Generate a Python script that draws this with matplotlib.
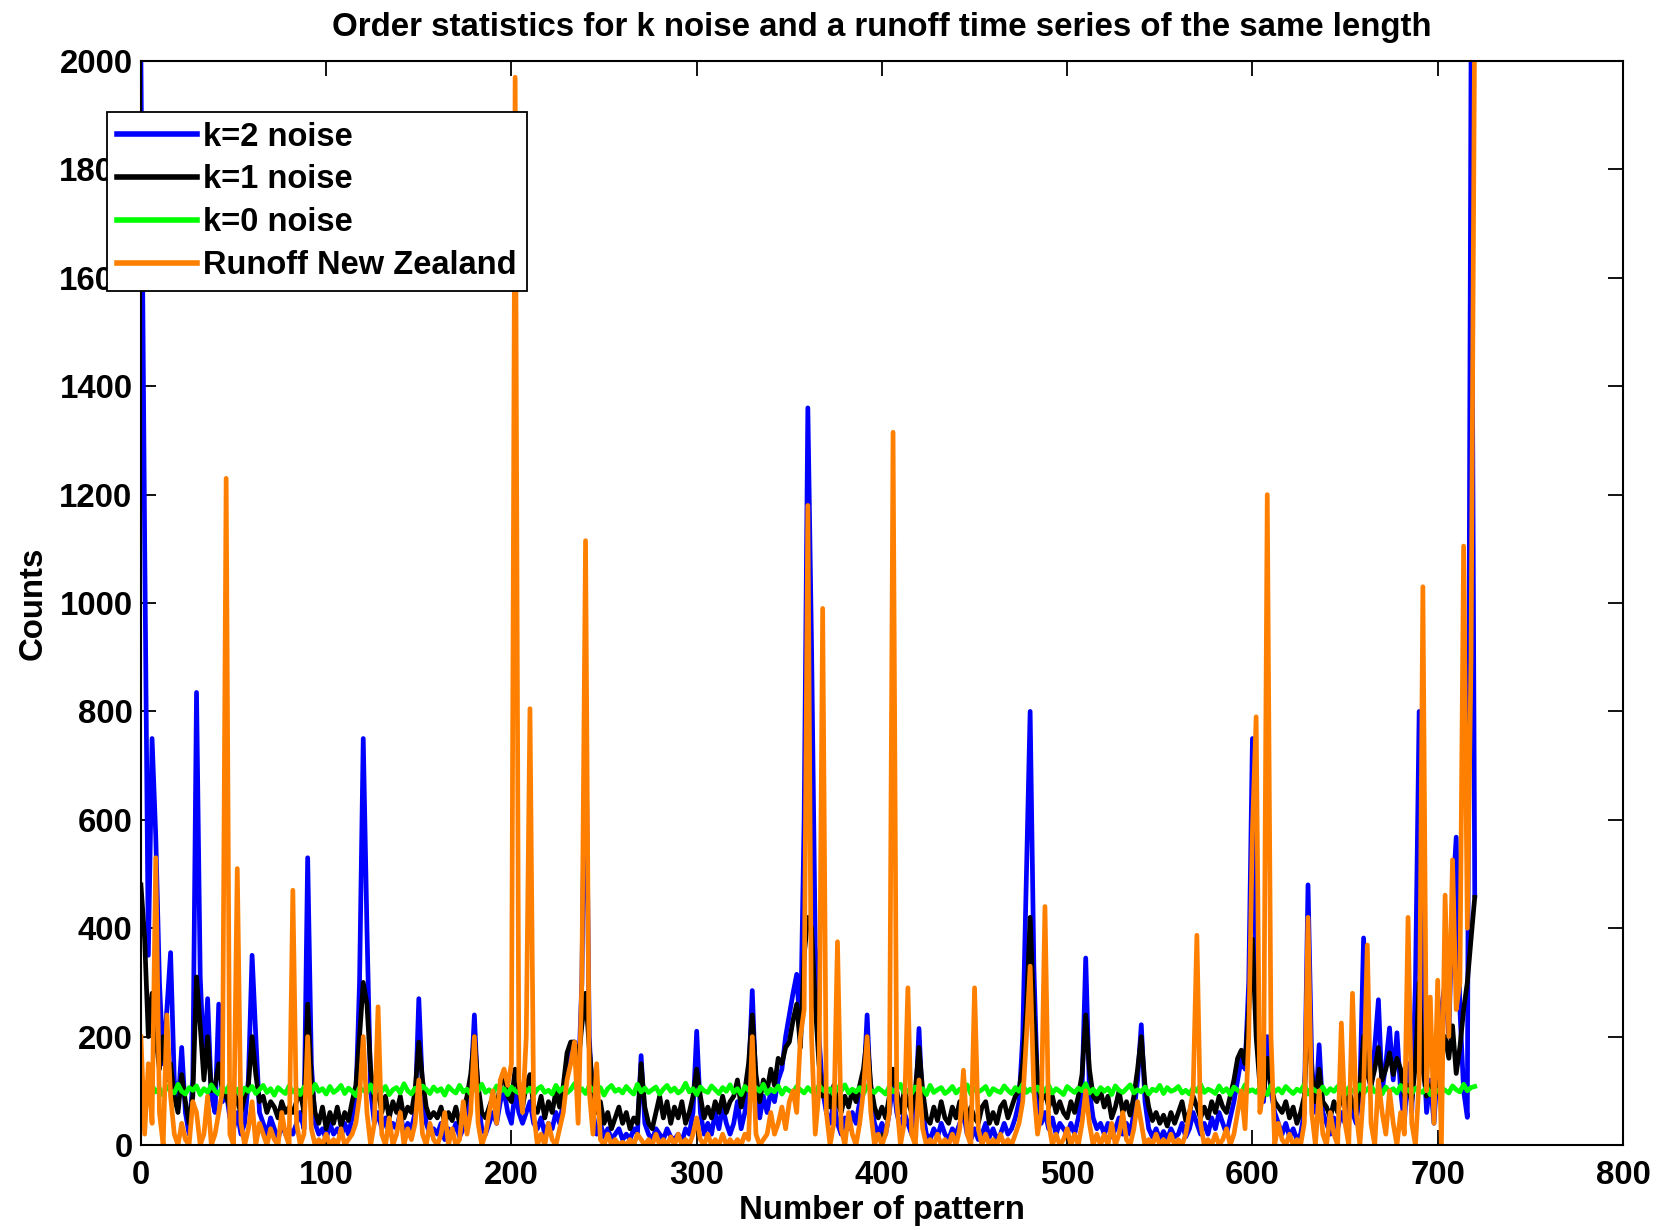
import matplotlib
matplotlib.use('Agg')
import matplotlib.pyplot as plt
import numpy as np

# pattern counts, one value every 2 patterns
step = 2
k2_noise = [
    2000, 1120, 350, 750, 570, 300, 150, 250, 355, 120, 70, 180, 60, 20, 120, 835, 310, 150, 270, 90,
    60, 260, 80, 100, 50, 30, 60, 20, 40, 120, 350, 200, 60, 40, 20, 50, 30, 10, 40, 20,
    30, 20, 40, 60, 30, 530, 150, 40, 20, 30, 10, 40, 20, 30, 15, 40, 20, 50, 80, 300,
    750, 400, 100, 40, 60, 30, 50, 20, 40, 30, 60, 20, 40, 30, 60, 270, 100, 40, 20, 30,
    20, 40, 10, 30, 20, 40, 15, 30, 60, 100, 240, 80, 30, 20, 40, 60, 40, 80, 100, 60,
    40, 100, 60, 40, 60, 80, 40, 30, 50, 20, 40, 30, 60, 40, 80, 140, 180, 190, 100, 300,
    820, 200, 60, 20, 40, 15, 30, 10, 20, 30, 10, 20, 10, 30, 20, 165, 40, 20, 10, 30,
    20, 10, 30, 15, 10, 20, 5, 30, 20, 60, 210, 60, 20, 40, 20, 60, 30, 70, 40, 20,
    40, 80, 30, 60, 120, 285, 100, 50, 90, 60, 100, 80, 120, 140, 200, 240, 280, 315, 200, 600,
    1360, 920, 370, 200, 100, 60, 40, 80, 40, 20, 50, 30, 60, 40, 80, 100, 240, 80, 40, 20,
    40, 20, 60, 120, 60, 30, 60, 40, 20, 60, 215, 60, 20, 10, 30, 15, 40, 20, 10, 30,
    20, 40, 60, 20, 10, 30, 10, 20, 40, 15, 30, 10, 20, 40, 20, 30, 50, 80, 200, 500,
    800, 330, 100, 40, 60, 30, 50, 20, 40, 30, 20, 40, 20, 50, 100, 345, 100, 50, 30, 40,
    20, 40, 15, 30, 50, 20, 40, 20, 60, 120, 222, 80, 30, 15, 30, 10, 25, 10, 30, 15,
    20, 40, 15, 30, 60, 40, 20, 40, 20, 50, 30, 60, 40, 20, 50, 80, 120, 160, 140, 300,
    750, 300, 120, 80, 200, 100, 60, 40, 20, 40, 15, 30, 10, 20, 60, 480, 150, 60, 185, 60,
    40, 20, 50, 30, 60, 40, 80, 60, 40, 100, 382, 150, 100, 180, 268, 100, 150, 216, 120, 207,
    100, 40, 150, 60, 300, 800, 200, 60, 120, 40, 150, 250, 300, 200, 450, 568, 250, 100, 51, 2000,
    460]
k1_noise = [
    480, 380, 200, 280, 200, 140, 200, 120, 150, 90, 60, 130, 80, 40, 90, 310, 220, 120, 200, 100,
    110, 150, 100, 90, 70, 100, 80, 60, 90, 110, 200, 130, 80, 90, 60, 80, 70, 50, 80, 60,
    70, 60, 80, 100, 60, 260, 120, 60, 40, 70, 30, 60, 40, 70, 35, 60, 45, 80, 110, 200,
    300, 260, 140, 80, 100, 60, 90, 50, 80, 60, 90, 50, 70, 60, 100, 190, 120, 70, 50, 60,
    50, 70, 40, 60, 45, 70, 40, 60, 90, 130, 200, 110, 60, 50, 70, 90, 70, 110, 130, 90,
    80, 140, 100, 70, 110, 130, 70, 60, 90, 50, 80, 60, 100, 70, 110, 170, 190, 190, 150, 220,
    280, 180, 100, 60, 80, 40, 60, 30, 50, 70, 40, 60, 30, 50, 40, 150, 70, 40, 30, 60,
    90, 50, 80, 40, 70, 50, 80, 40, 60, 90, 140, 90, 50, 70, 50, 80, 60, 90, 60, 80,
    90, 120, 70, 100, 150, 240, 130, 80, 120, 100, 140, 110, 160, 150, 180, 190, 230, 260, 180, 350,
    420, 400, 260, 150, 90, 100, 70, 110, 80, 60, 90, 70, 100, 80, 110, 140, 200, 110, 70, 50,
    70, 50, 90, 140, 100, 60, 100, 80, 60, 100, 180, 100, 50, 40, 70, 45, 80, 50, 40, 70,
    50, 80, 60, 40, 70, 50, 40, 70, 80, 40, 60, 40, 70, 80, 50, 70, 90, 100, 150, 250,
    420, 240, 120, 80, 100, 70, 90, 60, 80, 60, 50, 80, 60, 90, 130, 240, 140, 90, 80, 100,
    70, 90, 50, 70, 100, 60, 80, 55, 90, 140, 200, 110, 70, 45, 60, 40, 55, 35, 60, 40,
    60, 80, 45, 60, 90, 70, 50, 70, 50, 80, 60, 90, 70, 60, 90, 120, 160, 175, 150, 250,
    380, 200, 110, 90, 160, 110, 80, 70, 60, 80, 50, 70, 40, 60, 90, 250, 130, 80, 140, 80,
    70, 50, 80, 60, 90, 70, 100, 80, 60, 110, 200, 130, 110, 140, 180, 120, 140, 170, 130, 160,
    140, 90, 110, 80, 150, 300, 140, 90, 110, 80, 120, 180, 200, 160, 220, 132, 181, 250, 300, 380,
    457]
k0_noise = [
    88, 102, 95, 110, 98, 105, 92, 108, 100, 96, 112, 99, 94, 106, 101, 109, 93, 104, 97, 111,
    100, 94, 107, 98, 113, 96, 103, 91, 105, 99, 108, 95, 102, 110, 97, 104, 92, 106, 100, 95,
    109, 98, 103, 93, 107, 101, 96, 112, 99, 104, 94, 108, 97, 102, 110, 95, 105, 99, 91, 106,
    101, 97, 111, 95, 104, 99, 108, 93, 102, 106, 96, 113, 100, 94, 105, 98, 109, 103, 95, 107,
    99, 104, 92, 108, 101, 96, 110, 98, 103, 94, 106, 100, 112, 97, 102, 95, 109, 99, 104, 93,
    107, 100, 96, 111, 98, 105, 93, 103, 108, 97, 101, 94, 110, 99, 106, 96, 102, 113, 98, 104,
    95, 109, 101, 97, 106, 92, 104, 110, 99, 103, 96, 108, 100, 94, 112, 98, 105, 97, 102, 107,
    94, 103, 110, 99, 105, 96, 101, 114, 98, 104, 93, 107, 100, 97, 109, 102, 95, 106, 99, 111,
    97, 104, 93, 108, 101, 96, 106, 99, 112, 95, 103, 98, 109, 94, 105, 100, 97, 108, 102, 96,
    106, 99, 95, 110, 102, 97, 104, 93, 107, 100, 111, 96, 103, 98, 106, 94, 109, 101, 97, 105,
    100, 94, 108, 98, 103, 112, 96, 101, 95, 107, 99, 104, 93, 110, 97, 102, 106, 95, 100, 108,
    96, 103, 99, 111, 94, 105, 98, 102, 108, 93, 104, 100, 97, 109, 101, 95, 106, 99, 112, 97,
    103, 98, 107, 95, 101, 110, 96, 104, 99, 93, 108, 102, 97, 105, 100, 113, 96, 103, 94, 106,
    99, 105, 93, 109, 101, 97, 104, 111, 96, 102, 98, 107, 94, 103, 100, 110, 95, 106, 99, 102,
    108, 96, 101, 94, 106, 99, 112, 97, 103, 100, 95, 109, 98, 104, 93, 107, 101, 96, 111, 99,
    102, 97, 106, 100, 93, 110, 98, 104, 96, 108, 101, 95, 103, 99, 112, 94, 105, 100, 97, 107,
    95, 104, 99, 108, 102, 93, 106, 100, 97, 111, 96, 103, 109, 98, 101, 94, 107, 99, 104, 96,
    110, 98, 102, 95, 105, 100, 97, 108, 93, 104, 99, 106, 101, 96, 109, 102, 98, 112, 100, 106,
    108]
runoff_nz = [
    200, 20, 150, 40, 530, 60, 0, 240, 90, 20, 0, 40, 10, 0, 80, 60, 0, 20, 90, 0,
    20, 60, 100, 1230, 20, 0, 510, 40, 0, 30, 80, 0, 40, 20, 0, 30, 10, 0, 60, 20,
    0, 470, 40, 0, 20, 200, 30, 0, 10, 0, 20, 0, 10, 0, 30, 0, 10, 20, 40, 90,
    200, 60, 0, 40, 255, 20, 0, 50, 0, 20, 60, 0, 30, 10, 40, 120, 20, 0, 40, 10,
    0, 20, 60, 0, 30, 0, 10, 80, 20, 60, 200, 40, 0, 20, 60, 100, 40, 120, 140, 110,
    150, 1970, 120, 60, 200, 805, 60, 0, 20, 0, 40, 10, 0, 30, 60, 120, 150, 190, 40, 300,
    1115, 100, 20, 150, 10, 0, 20, 0, 10, 0, 5, 0, 10, 0, 20, 10, 0, 10, 0, 20,
    0, 10, 0, 15, 0, 20, 0, 10, 0, 20, 50, 10, 0, 20, 0, 10, 0, 20, 0, 10,
    0, 10, 0, 20, 10, 200, 20, 0, 10, 20, 60, 20, 40, 70, 30, 80, 100, 60, 200, 250,
    1180, 200, 20, 100, 990, 60, 0, 40, 375, 30, 0, 60, 20, 0, 40, 100, 200, 60, 0, 20,
    0, 20, 60, 1315, 80, 0, 40, 290, 20, 0, 120, 30, 0, 10, 0, 20, 0, 10, 0, 20,
    0, 30, 138, 20, 0, 290, 30, 0, 20, 0, 10, 0, 20, 0, 10, 0, 20, 40, 80, 200,
    330, 100, 20, 60, 440, 40, 0, 20, 0, 10, 30, 0, 20, 0, 40, 100, 40, 0, 20, 0,
    20, 0, 40, 0, 20, 60, 10, 0, 30, 80, 40, 0, 10, 0, 20, 0, 10, 0, 20, 0,
    10, 0, 20, 60, 100, 387, 40, 0, 10, 0, 20, 0, 10, 30, 0, 20, 60, 100, 30, 200,
    580, 790, 60, 100, 1200, 200, 0, 40, 10, 0, 20, 0, 10, 0, 40, 420, 60, 0, 100, 20,
    0, 60, 20, 0, 225, 40, 0, 280, 60, 0, 100, 369, 40, 0, 120, 60, 20, 100, 40, 0,
    60, 20, 420, 40, 0, 120, 1030, 100, 273, 40, 304, 0, 461, 200, 526, 250, 300, 1105, 400, 900,
    2100]

labels = ['k=2 noise', 'k=1 noise', 'k=0 noise', 'Runoff New Zealand']

plt.rcParams['font.family'] = ['Liberation Sans', 'DejaVu Sans']
plt.rcParams['font.weight'] = 'bold'
fs = 23.8

fig = plt.figure(figsize=(16.62, 12.30), dpi=100)
ax = fig.add_axes([0.0848, 0.0691, 0.8917, 0.8813])

x = np.arange(len(k2_noise)) * step
lw = 3.4
ax.plot(x, k2_noise, color=(0, 0, 1), lw=lw, label=labels[0])
ax.plot(x, k1_noise, color='black', lw=lw, label=labels[1])
ax.plot(x, k0_noise, color=(0, 1, 0), lw=lw, label=labels[2])
ax.plot(x, runoff_nz, color='#ff8000', lw=lw, label=labels[3])

ax.set_xlim(0, 800)
ax.set_ylim(0, 2000)
ax.set_xticks(np.arange(0, 801, 100))
ax.set_yticks(np.arange(0, 2001, 200))
ax.tick_params(axis='both', direction='in', length=11, width=1.3, top=True, right=True,
               labelsize=fs)
ax.tick_params(axis='x', pad=11)
ax.tick_params(axis='y', pad=6)
for s in ax.spines.values():
    s.set_linewidth(1.5)

ax.set_title('Order statistics for k noise and a runoff time series of the same length',
             fontsize=fs, fontweight='bold', pad=18)
ax.set_xlabel('Number of pattern', fontsize=fs, fontweight='bold', labelpad=3)
ax.set_ylabel('Counts', fontsize=fs, fontweight='bold', labelpad=8)

leg = ax.legend(loc='upper left', bbox_to_anchor=(0.0644, 0.909),
                bbox_transform=fig.transFigure, borderaxespad=0,
                fontsize=fs - 0.3, handlelength=2.45, handletextpad=0.2,
                labelspacing=0.36, borderpad=0.3, fancybox=False,
                framealpha=1, edgecolor='black')
leg.get_frame().set_linewidth(1.3)
for line in leg.get_lines():
    line.set_linewidth(4)

fig.savefig('out.png', dpi=100)
